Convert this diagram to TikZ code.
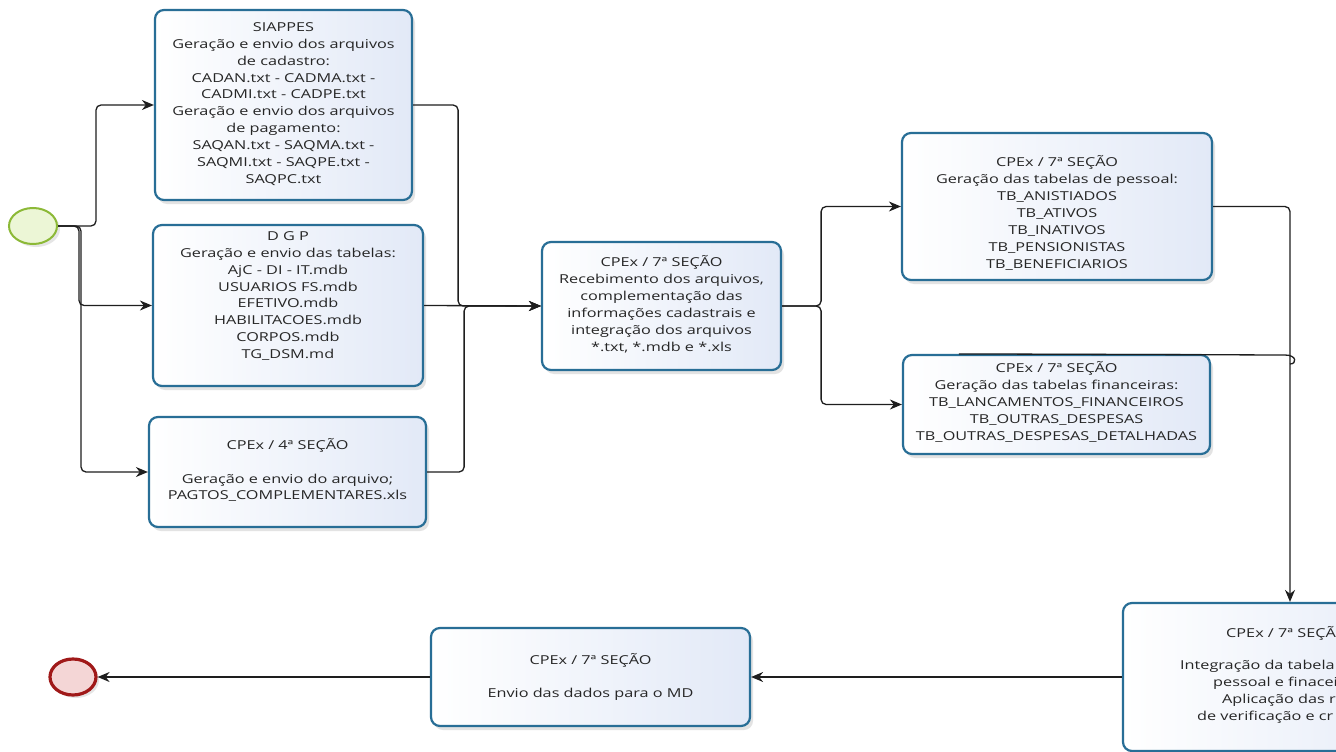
\documentclass[tikz,border=0pt]{standalone}
\usepackage{fontspec}
\setmainfont{Open Sans}[FakeStretch=1.32]
\usetikzlibrary{shadows,arrows.meta,calc,shapes.geometric}
\definecolor{boxedge}{RGB}{40,110,150}
\definecolor{boxbot}{RGB}{226,233,247}
\definecolor{startedge}{RGB}{140,185,55}
\definecolor{startfill}{RGB}{236,246,214}
\definecolor{endedge}{RGB}{160,25,25}
\definecolor{endfill}{RGB}{244,214,214}
\definecolor{linec}{RGB}{30,30,30}
\tikzset{
  box/.style={draw=boxedge, line width=2.2pt, rounded corners=9pt, left color=white, right color=boxbot,
    drop shadow={shadow xshift=3pt, shadow yshift=-4pt, opacity=0.22, fill=gray}},
  txt/.style={align=center, inner sep=0pt, text=black!85, font=\fontsize{12.3}{16.9}\selectfont},
  flow/.style={draw=linec, line width=1.3pt, rounded corners=5pt, -{Stealth[length=12pt,width=10pt]}},
  plain/.style={draw=linec, line width=1.3pt, rounded corners=5pt},
  startev/.style={ellipse, draw=startedge, line width=2pt, fill=startfill, minimum width=48pt, minimum height=36pt, inner sep=0pt,
    drop shadow={shadow xshift=3pt, shadow yshift=-3pt, opacity=0.2, fill=gray}},
  endev/.style={ellipse, draw=endedge, line width=3.2pt, fill=endfill, minimum width=46pt, minimum height=36pt, inner sep=0pt,
    drop shadow={shadow xshift=3pt, shadow yshift=-3pt, opacity=0.2, fill=gray}},
}
\begin{document}
\begin{tikzpicture}[x=1pt,y=-1pt]
\useasboundingbox (0,0) rectangle (1336,752);
\clip (0,0) rectangle (1336,752);
\fill[white] (0,0) rectangle (1336,752);

% events
\node[startev] (start) at (33,226) {};
\node[endev] (end) at (73,677) {};

% boxes
\node[box, minimum width=257pt, minimum height=190pt] (siappes) at (283.5,105) {};
\node[txt] (siappesT) at (283.5,104) {SIAPPES\\Geração e envio dos arquivos\\de cadastro:\\CADAN.txt - CADMA.txt -\\CADMI.txt - CADPE.txt\\Geração e envio dos arquivos\\de pagamento:\\SAQAN.txt - SAQMA.txt -\\SAQMI.txt - SAQPE.txt -\\SAQPC.txt};

\node[box, minimum width=270pt, minimum height=161pt] (dgp) at (288,305.5) {};
\node[txt] (dgpT) at (288,296) {D G P\\Geração e envio das tabelas:\\AjC - DI - IT.mdb\\USUARIOS FS.mdb\\EFETIVO.mdb\\HABILITACOES.mdb\\CORPOS.mdb\\TG\_DSM.md};

\node[box, minimum width=277pt, minimum height=110pt] (cpexq) at (287.5,472) {};
\node[txt] (cpexqT) at (287.5,470) {CPEx / 4ª SEÇÃO\\[16.9pt]Geração e envio do arquivo;\\PAGTOS\_COMPLEMENTARES.xls};

\node[box, minimum width=239pt, minimum height=128pt] (receb) at (661.5,306) {};
\node[txt] (recebT) at (661.5,304.5) {CPEx / 7ª SEÇÃO\\Recebimento dos arquivos,\\complementação das\\informações cadastrais e\\integração dos arquivos\\*.txt, *.mdb e *.xls};

\node[box, minimum width=310pt, minimum height=147pt] (pessoal) at (1057,206.5) {};
\node[txt] (pessoalT) at (1057,213) {CPEx / 7ª SEÇÃO\\Geração das tabelas de pessoal:\\TB\_ANISTIADOS\\TB\_ATIVOS\\TB\_INATIVOS\\TB\_PENSIONISTAS\\TB\_BENEFICIARIOS};

\node[box, minimum width=307pt, minimum height=99pt] (financ) at (1056.5,404.5) {};
\node[txt] (financT) at (1056.5,402) {CPEx / 7ª SEÇÃO\\Geração das tabelas financeiras:\\TB\_LANCAMENTOS\_FINANCEIROS\\TB\_OUTRAS\_DESPESAS\\TB\_OUTRAS\_DESPESAS\_DETALHADAS};

\node[box, minimum width=334pt, minimum height=148pt] (final) at (1290,677) {};
\node[txt, anchor=west] (finalA) at (1226,633) {CPEx / 7ª SEÇÃO};
\node[txt, anchor=west] (finalB) at (1180,666) {Integração da tabela};
\node[txt, anchor=west] (finalC) at (1213,683) {pessoal e finacei};
\node[txt, anchor=west] (finalD) at (1222,700) {Aplicação das ro};
\node[txt, anchor=west] (finalE) at (1197,717) {de verificação e cr};

\node[box, minimum width=319pt, minimum height=98pt] (envio) at (590.5,677) {};
\node[txt] (envioT) at (590.5,677) {CPEx / 7ª SEÇÃO\\[16.9pt]Envio das dados para o MD};

% connectors
\draw[flow] (start.east) -- ++(38,0) |- (siappes.west);
\draw[flow] (start.east) -- ++(21,0) |- (dgp.west);
\draw[flow] (start.east) -- ++(23,0) |- (cpexq.west);

\draw[flow] (siappes.east) -- ++(45,0) |- (receb.west);
\draw[flow] (dgp.east) -- (receb.west);
\draw[flow] (cpexq.east) -- ++(37,0) |- (receb.west);

\draw[flow] (receb.east) -- ++(39,0) |- (pessoal.west);
\draw[flow] (receb.east) -- ++(39,0) |- (financ.west);

\draw[flow] (pessoal.east) -| (final.north);
\draw[plain, rounded corners=0pt] (financ.north west) ++(57,0) -- (1285,355) .. controls (1297,355) and (1297,364) .. (1290,364);

\draw[flow] (final.west) -- (envio.east);
\draw[flow] (envio.west) -- (end.east);
\end{tikzpicture}
\end{document}
